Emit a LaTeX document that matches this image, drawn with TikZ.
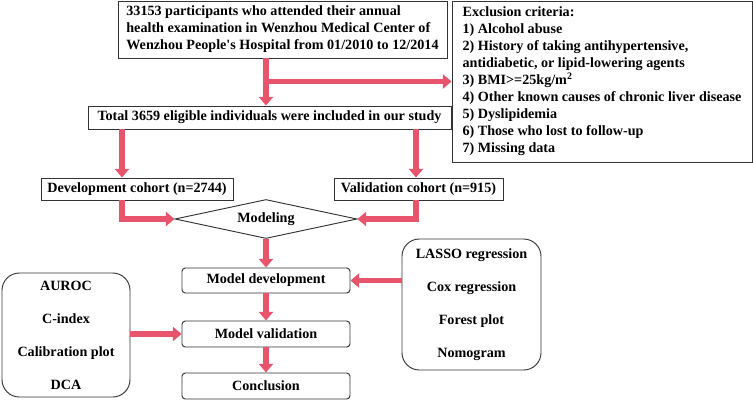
\documentclass[tikz,border=0pt]{standalone}
\usepackage{fontspec}
\setmainfont{Liberation Serif}
\usetikzlibrary{arrows.meta,shapes.geometric}
\definecolor{arrowred}{RGB}{232,84,108}

\begin{document}
\begin{tikzpicture}[x=0.75pt,y=-0.75pt,
	font=\fontsize{10.6}{12.75}\selectfont\bfseries,
	box/.style={draw=black!80, line width=0.7pt, inner sep=0pt},
	stagebox/.style={box, rounded corners=2.5pt, minimum width=168*0.75pt},
	listbox/.style={box, rounded corners=13pt, align=center},
	flow/.style={draw=arrowred, line width=4pt, -{Triangle[length=6.5pt,width=10.5pt]}}]
	\useasboundingbox (0,0) rectangle (753,400);
	%% cohort selection
	\node[box, minimum width=329*0.75pt, minimum height=57*0.75pt, align=left] (start) at (282.5,29.5) {33153 participants who attended their annual\\health examination in Wenzhou Medical Center of\\Wenzhou People\textquotesingle s Hospital from 01/2010 to 12/2014};
	\node[box, minimum width=300*0.75pt, minimum height=161*0.75pt, align=left] (excl) at (602,81.5) {Exclusion criteria:\\1) Alcohol abuse\\2) History of taking antihypertensive,\\antidiabetic, or lipid-lowering agents\\3) BMI>=25kg/m\textsuperscript{2}\\4) Other known causes of chronic liver disease\\5) Dyslipidemia\\6) Those who lost to follow-up\\7) Missing data};
	\node[box, minimum width=363*0.75pt, minimum height=23*0.75pt] (total) at (269.5,117.5) {Total 3659 eligible individuals were included in our study};
	\node[box, minimum width=192*0.75pt, minimum height=22*0.75pt] (dev) at (137,189) {Development cohort (n=2744)};
	\node[box, minimum width=169*0.75pt, minimum height=22*0.75pt] (val) at (418.5,189) {Validation cohort (n=915)};
	\node[draw=black!80, line width=0.7pt, diamond, aspect=4.5, inner sep=0pt, minimum width=182*0.75pt, minimum height=39*0.75pt] (model) at (266,219) {Modeling};
	%% model steps
	\node[stagebox, minimum height=25*0.75pt] (mdev) at (266,280.5) {Model development};
	\node[stagebox, minimum height=26*0.75pt] (mval) at (266,334) {Model validation};
	\node[stagebox, minimum height=26*0.75pt] (concl) at (266,386) {Conclusion};
	\node[listbox, minimum width=128*0.75pt, minimum height=124*0.75pt] (metrics) at (66,335) {AUROC\\[12pt]C-index\\[12pt]Calibration plot\\[12pt]DCA};
	\node[listbox, minimum width=139*0.75pt, minimum height=131*0.75pt] (methods) at (471.5,304.5) {LASSO regression\\[12pt]Cox regression\\[12pt]Forest plot\\[12pt]Nomogram};
	\coordinate (lcol) at (122,0);
	\coordinate (rcol) at (416,0);
	%% arrows
	\draw[flow] (start.south -| model.north) -- (total.north -| model.north);
	\draw[flow] (excl.west -| model.north) -- (excl.west);
	\draw[flow] (total.south -| lcol) -- (dev.north -| lcol);
	\draw[flow] (total.south -| rcol) -- (val.north -| rcol);
	\draw[flow] (dev.south -| lcol) |- (model.west);
	\draw[flow] (val.south -| rcol) |- (model.east);
	\draw[flow] (model.south) -- (mdev.north);
	\draw[flow] (mdev.south) -- (mval.north);
	\draw[flow] (mval.south) -- (concl.north);
	\draw[flow] (methods.west |- mdev.east) -- (mdev.east);
	\draw[flow] (metrics.east |- mval.west) -- (mval.west);
\end{tikzpicture}
\end{document}
